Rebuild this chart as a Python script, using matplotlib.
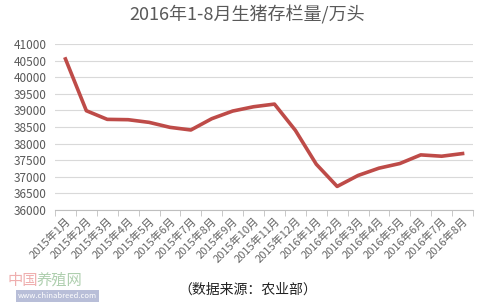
import numpy as np
import matplotlib.pyplot as plt

plt.rcParams['font.family'] = ['Noto Sans CJK SC', 'DejaVu Sans']

months = ['2015年1月', '2015年2月', '2015年3月', '2015年4月', '2015年5月',
          '2015年6月', '2015年7月', '2015年8月', '2015年9月', '2015年10月',
          '2015年11月', '2015年12月', '2016年1月', '2016年2月', '2016年3月',
          '2016年4月', '2016年5月', '2016年6月', '2016年7月', '2016年8月']
stock = [40550, 38990, 38730, 38720, 38640, 38490, 38410, 38750, 38980, 39110,
         39190, 38400, 37380, 36710, 37040, 37260, 37400, 37660, 37620, 37700]
yticks = np.arange(36000, 41001, 500)

grey = '#595959'

fig = plt.figure(figsize=(5.01, 3.07), dpi=100)
ax = fig.add_axes([55 / 501, 1 - 210 / 307, (473 - 55) / 501, (210 - 44) / 307])

x = np.arange(len(months))
ax.plot(x, stock, color='#BE4B48', lw=2.6, solid_joinstyle='round')

ax.set_ylim(36000, 41000)
ax.set_yticks(yticks)
ax.set_yticklabels([str(v) for v in yticks], color=grey, fontsize=8.5)
ax.grid(axis='y', color='#D9D9D9', lw=0.8)
ax.set_axisbelow(True)
ax.tick_params(axis='y', length=0, pad=6)

ax.set_xlim(-0.5, len(months) - 0.5)
ax.set_xticks(x)
ax.set_xticklabels(months, rotation=45, ha='right', rotation_mode='anchor',
                   color='#666666', fontsize=8)
ax.set_xticks(np.arange(len(months) + 1) - 0.5, minor=True)
ax.tick_params(axis='x', which='major', length=0, pad=4)
ax.tick_params(axis='x', which='minor', length=4, color='#BFBFBF')

for s in ['top', 'right', 'left']:
    ax.spines[s].set_visible(False)
ax.spines['bottom'].set_color('#BFBFBF')

fig.text(247 / 501, 1 - 15 / 307, '2016年1-8月生猪存栏量/万头', ha='center', va='center',
         fontsize=13, color=grey)
fig.text(248 / 501, 1 - 290 / 307, '（数据来源：农业部）', ha='center', va='center',
         fontsize=10, color='#222222')
fig.text(8 / 501, 1 - 280 / 307, '中国', ha='left', va='center',
         fontsize=11, color='#E06060', alpha=0.5)
fig.text(36 / 501, 1 - 280 / 307, '养殖网', ha='left', va='center',
         fontsize=11, color='#60A060', alpha=0.5)
fig.text(18 / 501, 1 - 296 / 307, 'www.chinabreed.com', ha='left', va='center',
         fontsize=5.5, color='white',
         bbox=dict(boxstyle='square,pad=0.2', fc='#9AA3C8', ec='none', alpha=0.7))

fig.savefig('out.png', dpi=100)
